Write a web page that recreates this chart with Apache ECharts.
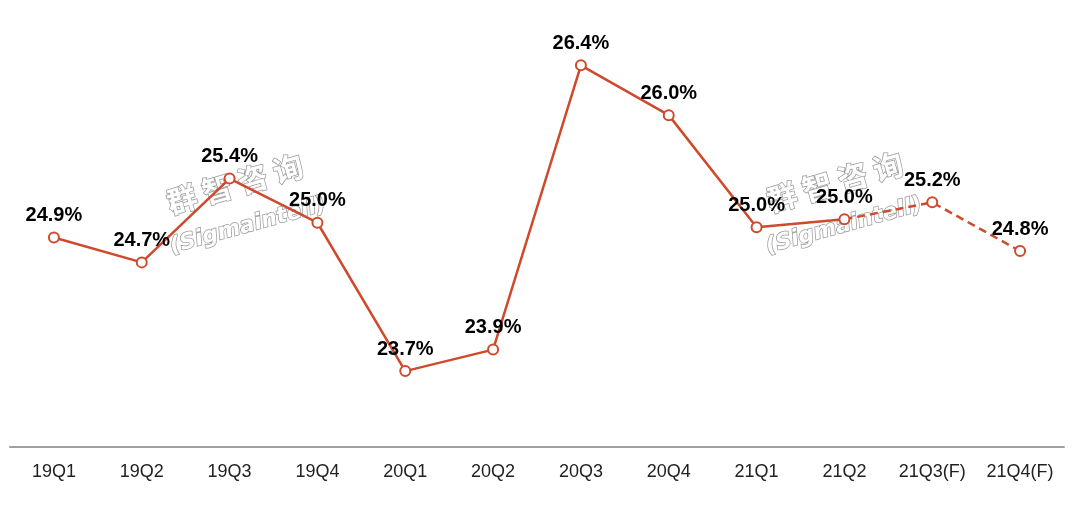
<!DOCTYPE html>
<html>
<head>
<meta charset="utf-8">
<script src="https://cdn.jsdelivr.net/npm/echarts@6/dist/echarts.min.js"></script>
<style>
  html, body { margin: 0; padding: 0; background: #fff; }
  #chart { width: 1080px; height: 507px; }
</style>
</head>
<body>
<div id="chart"></div>
<script>
// 季度
var quarters = ['19Q1', '19Q2', '19Q3', '19Q4', '20Q1', '20Q2', '20Q3', '20Q4', '21Q1', '21Q2', '21Q3(F)', '21Q4(F)'];
// 占比 (%)，前10个是实际值，后2个是预测
var shareValues = [24.88, 24.66, 25.40, 25.01, 23.70, 23.89, 26.40, 25.96, 24.97, 25.04, 25.19, 24.76];
var lastActual = 9; // 21Q2
// 纵轴范围
var yMin = 23.03;
var yMax = 26.8;

var lineColor = '#cf4a2c';

// 实线部分
var solidData = shareValues.map(function (v, i) {
  return i <= lastActual ? v : '-';
});
// 虚线部分（预测）
var dashData = shareValues.map(function (v, i) {
  if (i < lastActual) return '-';
  if (i === lastActual) return { value: v, symbol: 'none', label: { show: false } };
  return v;
});

var labelStyle = {
  show: true,
  position: 'top',
  distance: 6,
  color: '#000',
  fontSize: 20,
  fontWeight: 'bold',
  fontFamily: 'Liberation Sans, Arial, sans-serif',
  formatter: function (p) {
    return Number(p.value).toFixed(1) + '%';
  }
};

// 水印
function watermark(cx, cy, ex, ey) {
  return [
    {
      type: 'text', x: cx, y: cy, rotation: 0.28, z: -1,
      style: {
        text: '群 智 咨 询', fill: '#fff', stroke: '#999', lineWidth: 1.5,
        font: 'bold 30px "Noto Sans CJK SC"', align: 'center', verticalAlign: 'middle'
      }
    },
    {
      type: 'text', x: ex, y: ey, rotation: 0.27, z: -1,
      style: {
        text: '(Sigmaintell)', fill: '#fff', stroke: '#999', lineWidth: 1.5,
        font: 'italic bold 22px "DejaVu Sans"', align: 'center', verticalAlign: 'middle'
      }
    }
  ];
}

var chart = echarts.init(document.getElementById('chart'));

var option = {
  backgroundColor: '#fff',
  animation: false,
  graphic: watermark(235, 184, 248, 226).concat(watermark(835, 182, 844, 226)),
  grid: { left: 10, right: 16, top: 20, bottom: 60 },
  xAxis: {
    type: 'category',
    data: quarters,
    boundaryGap: true,
    axisTick: { show: false },
    axisLine: { lineStyle: { color: '#a0a0a0', width: 2 } },
    axisLabel: {
      color: '#222',
      fontSize: 18,
      fontFamily: 'Liberation Sans, Arial, sans-serif',
      margin: 16,
      interval: 0
    }
  },
  yAxis: {
    type: 'value',
    show: false,
    min: yMin,
    max: yMax,
    splitLine: { show: false }
  },
  series: [
    {
      name: '实际',
      type: 'line',
      data: solidData,
      symbol: 'emptyCircle',
      symbolSize: 10,
      lineStyle: { color: lineColor, width: 2.5 },
      itemStyle: { color: lineColor, borderWidth: 2 },
      label: labelStyle,
      z: 3
    },
    {
      name: '预测',
      type: 'line',
      data: dashData,
      symbol: 'emptyCircle',
      symbolSize: 10,
      lineStyle: { color: lineColor, width: 2.5, type: [8, 5] },
      itemStyle: { color: lineColor, borderWidth: 2 },
      label: labelStyle,
      z: 3
    }
  ]
};

chart.setOption(option);
</script>
</body>
</html>
